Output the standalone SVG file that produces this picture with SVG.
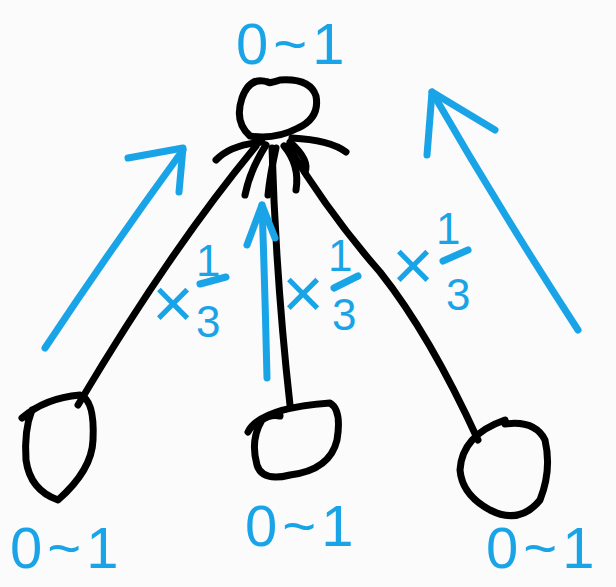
<svg xmlns="http://www.w3.org/2000/svg" width="616" height="587" viewBox="0 0 616 587">
<defs>
<style>
.k{fill:none;stroke:#000;stroke-width:7;stroke-linecap:round;stroke-linejoin:round}
.b{fill:none;stroke:#1aa4e8;stroke-width:7;stroke-linecap:round;stroke-linejoin:round}
.t{fill:#1aa4e8;font-family:"Liberation Sans",Arial,sans-serif}
.r{font-size:58px;letter-spacing:5px}
.x{font-size:72px}
.f{font-size:44px}
</style>
</defs>
<rect width="616" height="587" fill="#fbfbfb"/>
<g id="connectors">
<path class="k" d="M256 146 Q170 250 78 405"/>
<path class="k" d="M272 148 Q276 280 290 405"/>
<path class="k" d="M288 146 Q330 215 380 272 Q430 335 478 440"/>
<path class="k" d="M262 142 Q230 145 216 160"/>
<path class="k" d="M292 138 Q330 140 346 152"/>
<path class="k" d="M266 145 Q250 170 245 195"/>
<path class="k" d="M276 148 Q270 175 268 195"/>
<path class="k" d="M284 146 Q300 165 296 190"/>
<path class="k" d="M290 142 Q310 160 305 172"/>
</g>
<g id="arrows">
<path class="b" d="M45 348 Q110 250 183 150"/>
<path class="b" d="M128 158 L183 148 L179 192"/>
<path class="b" d="M267 378 Q265 290 262 205"/>
<path class="b" d="M247 245 L262 205 L275 238"/>
<path class="b" d="M578 330 Q500 210 432 92"/>
<path class="b" d="M427 155 L432 92 L495 130"/>
</g>
<g id="node-top">
<path class="k" d="M268 82 Q250 76 242 98 Q234 122 250 136 Q275 140 298 128 Q320 118 316 96 Q310 78 280 80 Q268 84 268 82"/>
<text class="t r" x="236" y="64">0~1</text>
</g>
<g id="node-left">
<path class="k" d="M22 418 Q45 398 80 395 Q95 400 93 440 Q92 470 58 500 Q30 490 26 460 Q24 430 32 410"/>
<text class="t r" x="10" y="568">0~1</text>
</g>
<g id="node-mid">
<path class="k" d="M248 432 Q260 408 330 403 Q342 410 337 440 Q330 470 290 475 Q262 482 257 465 Q250 440 262 420 Q270 414 280 416"/>
<text class="t r" x="245" y="546">0~1</text>
</g>
<g id="node-right">
<path class="k" d="M505 424 Q535 420 545 440 Q552 470 540 500 Q520 525 490 510 Q462 495 460 470 Q462 435 505 420"/>
<text class="t r" x="486" y="568">0~1</text>
</g>
<g id="label-left">
<text class="t x" x="152" y="328">×</text>
<text class="t f" x="196" y="276">1</text>
<line class="b" x1="200" y1="284" x2="226" y2="277"/>
<text class="t f" x="196" y="337">3</text>
</g>
<g id="label-mid">
<text class="t x" x="282" y="318">×</text>
<text class="t f" x="328" y="271">1</text>
<line class="b" x1="334" y1="288" x2="358" y2="276"/>
<text class="t f" x="332" y="330">3</text>
</g>
<g id="label-right">
<text class="t x" x="392" y="290">×</text>
<text class="t f" x="436" y="244">1</text>
<line class="b" x1="443" y1="261" x2="468" y2="250"/>
<text class="t f" x="446" y="310">3</text>
</g>
</svg>
